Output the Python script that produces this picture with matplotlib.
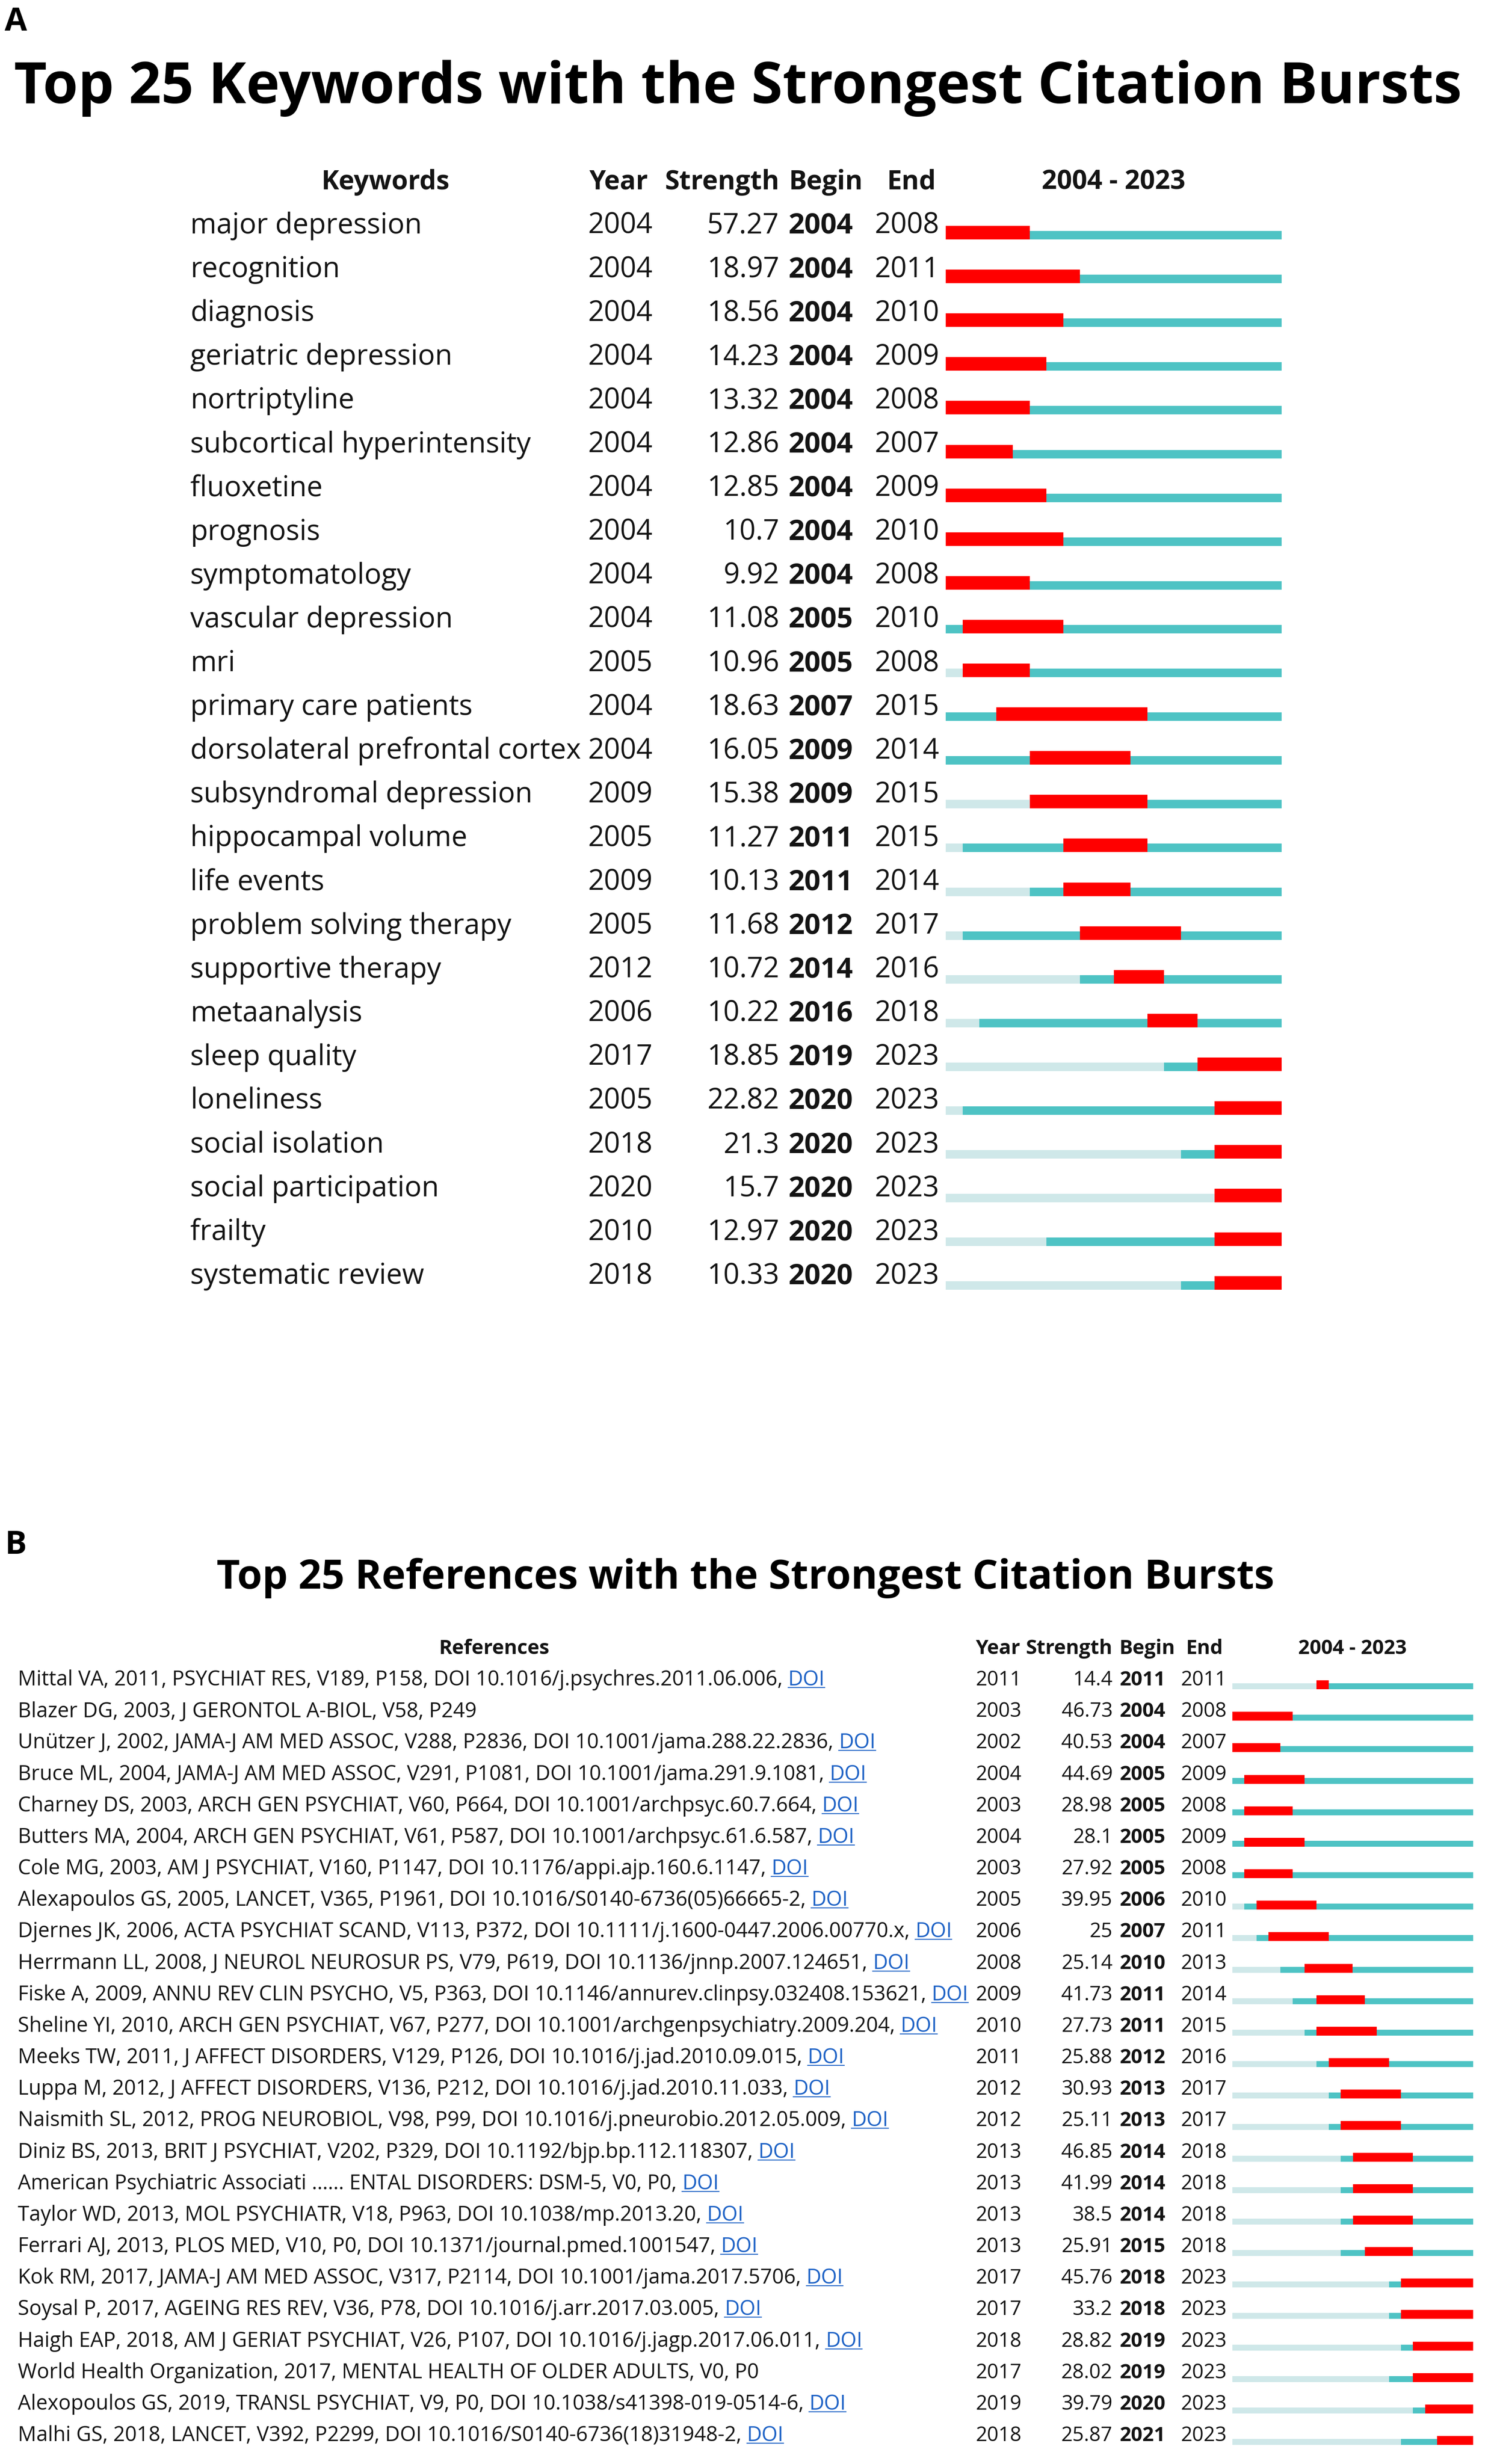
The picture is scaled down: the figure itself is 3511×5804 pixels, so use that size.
import matplotlib
matplotlib.use("Agg")
import numpy as np
import matplotlib.pyplot as plt
from matplotlib.lines import Line2D

# ------------------------------------------------------------------ data
kw_terms = ["major depression", "recognition", "diagnosis", "geriatric depression",
            "nortriptyline", "subcortical hyperintensity", "fluoxetine", "prognosis",
            "symptomatology", "vascular depression", "mri", "primary care patients",
            "dorsolateral prefrontal cortex", "subsyndromal depression", "hippocampal volume",
            "life events", "problem solving therapy", "supportive therapy", "metaanalysis",
            "sleep quality", "loneliness", "social isolation", "social participation",
            "frailty", "systematic review"]
kw_year = [2004, 2004, 2004, 2004, 2004, 2004, 2004, 2004, 2004, 2004, 2005, 2004, 2004,
           2009, 2005, 2009, 2005, 2012, 2006, 2017, 2005, 2018, 2020, 2010, 2018]
kw_strength = ["57.27", "18.97", "18.56", "14.23", "13.32", "12.86", "12.85", "10.7", "9.92",
               "11.08", "10.96", "18.63", "16.05", "15.38", "11.27", "10.13", "11.68", "10.72",
               "10.22", "18.85", "22.82", "21.3", "15.7", "12.97", "10.33"]
kw_begin = [2004, 2004, 2004, 2004, 2004, 2004, 2004, 2004, 2004, 2005, 2005, 2007, 2009,
            2009, 2011, 2011, 2012, 2014, 2016, 2019, 2020, 2020, 2020, 2020, 2020]
kw_end = [2008, 2011, 2010, 2009, 2008, 2007, 2009, 2010, 2008, 2010, 2008, 2015, 2014,
          2015, 2015, 2014, 2017, 2016, 2018, 2023, 2023, 2023, 2023, 2023, 2023]

ref_text = [
    "Mittal VA, 2011, PSYCHIAT RES, V189, P158, DOI 10.1016/j.psychres.2011.06.006,",
    "Blazer DG, 2003, J GERONTOL A-BIOL, V58, P249",
    "Unützer J, 2002, JAMA-J AM MED ASSOC, V288, P2836, DOI 10.1001/jama.288.22.2836,",
    "Bruce ML, 2004, JAMA-J AM MED ASSOC, V291, P1081, DOI 10.1001/jama.291.9.1081,",
    "Charney DS, 2003, ARCH GEN PSYCHIAT, V60, P664, DOI 10.1001/archpsyc.60.7.664,",
    "Butters MA, 2004, ARCH GEN PSYCHIAT, V61, P587, DOI 10.1001/archpsyc.61.6.587,",
    "Cole MG, 2003, AM J PSYCHIAT, V160, P1147, DOI 10.1176/appi.ajp.160.6.1147,",
    "Alexapoulos GS, 2005, LANCET, V365, P1961, DOI 10.1016/S0140-6736(05)66665-2,",
    "Djernes JK, 2006, ACTA PSYCHIAT SCAND, V113, P372, DOI 10.1111/j.1600-0447.2006.00770.x,",
    "Herrmann LL, 2008, J NEUROL NEUROSUR PS, V79, P619, DOI 10.1136/jnnp.2007.124651,",
    "Fiske A, 2009, ANNU REV CLIN PSYCHO, V5, P363, DOI 10.1146/annurev.clinpsy.032408.153621,",
    "Sheline YI, 2010, ARCH GEN PSYCHIAT, V67, P277, DOI 10.1001/archgenpsychiatry.2009.204,",
    "Meeks TW, 2011, J AFFECT DISORDERS, V129, P126, DOI 10.1016/j.jad.2010.09.015,",
    "Luppa M, 2012, J AFFECT DISORDERS, V136, P212, DOI 10.1016/j.jad.2010.11.033,",
    "Naismith SL, 2012, PROG NEUROBIOL, V98, P99, DOI 10.1016/j.pneurobio.2012.05.009,",
    "Diniz BS, 2013, BRIT J PSYCHIAT, V202, P329, DOI 10.1192/bjp.bp.112.118307,",
    "American Psychiatric Associati ...... ENTAL DISORDERS: DSM-5, V0, P0,",
    "Taylor WD, 2013, MOL PSYCHIATR, V18, P963, DOI 10.1038/mp.2013.20,",
    "Ferrari AJ, 2013, PLOS MED, V10, P0, DOI 10.1371/journal.pmed.1001547,",
    "Kok RM, 2017, JAMA-J AM MED ASSOC, V317, P2114, DOI 10.1001/jama.2017.5706,",
    "Soysal P, 2017, AGEING RES REV, V36, P78, DOI 10.1016/j.arr.2017.03.005,",
    "Haigh EAP, 2018, AM J GERIAT PSYCHIAT, V26, P107, DOI 10.1016/j.jagp.2017.06.011,",
    "World Health Organization, 2017, MENTAL HEALTH OF OLDER ADULTS, V0, P0",
    "Alexopoulos GS, 2019, TRANSL PSYCHIAT, V9, P0, DOI 10.1038/s41398-019-0514-6,",
    "Malhi GS, 2018, LANCET, V392, P2299, DOI 10.1016/S0140-6736(18)31948-2,",
]
ref_link = [True, False, True, True, True, True, True, True, True, True, True, True, True,
            True, True, True, True, True, True, True, True, True, False, True, True]
ref_year = [2011, 2003, 2002, 2004, 2003, 2004, 2003, 2005, 2006, 2008, 2009, 2010, 2011,
            2012, 2012, 2013, 2013, 2013, 2013, 2017, 2017, 2018, 2017, 2019, 2018]
ref_strength = ["14.4", "46.73", "40.53", "44.69", "28.98", "28.1", "27.92", "39.95", "25",
                "25.14", "41.73", "27.73", "25.88", "30.93", "25.11", "46.85", "41.99", "38.5",
                "25.91", "45.76", "33.2", "28.82", "28.02", "39.79", "25.87"]
ref_begin = [2011, 2004, 2004, 2005, 2005, 2005, 2005, 2006, 2007, 2010, 2011, 2011, 2012,
             2013, 2013, 2014, 2014, 2014, 2015, 2018, 2018, 2019, 2019, 2020, 2021]
ref_end = [2011, 2008, 2007, 2009, 2008, 2009, 2008, 2010, 2011, 2013, 2014, 2015, 2016,
           2017, 2017, 2018, 2018, 2018, 2018, 2023, 2023, 2023, 2023, 2023, 2023]

span_start, span_end = 2004, 2023
title_a = "Top 25 Keywords with the Strongest Citation Bursts"
title_b = "Top 25 References with the Strongest Citation Bursts"
headers = ["Year", "Strength", "Begin", "End"]
span_label = f"{span_start} - {span_end}"

# ------------------------------------------------------------------ style
W, H, DPI = 3512, 5804, 100
plt.rcParams['font.family'] = ['Open Sans', 'DejaVu Sans']
TXT = '#141414'
RED = '#FF0000'
CYAN = '#4EC3C4'
LIGHT = '#CFE8E9'
LINK = '#1F63C6'

fig = plt.figure(figsize=(W / DPI, H / DPI), dpi=DPI)
fig.patch.set_facecolor('white')
renderer = fig.canvas.get_renderer()


def box_axes(x0, y0, x1, y1):
    ax = fig.add_axes([x0 / W, 1 - y1 / H, (x1 - x0) / W, (y1 - y0) / H])
    ax.set_axis_off()
    return ax


def width_px(t):
    return t.get_window_extent(renderer).width


def fit_size(texts, target, size):
    w = max(width_px(t) for t in texts)
    new = size * target / w
    for t in texts:
        t.set_fontsize(new)
    return new


def fig_text(xp, yp, s, **kw):
    return fig.text(xp / W, 1 - yp / H, s, **kw)


def panel(y_top, y_bot, base0, pitch):
    """Text axes (x in pixels, y in row units) for a panel."""
    ax = box_axes(0, y_top, W, y_bot)
    ax.set_xlim(0, W)
    ax.set_ylim((y_bot - base0) / pitch, (y_top - base0) / pitch)
    return ax


def draw_bars(ax, years, begins, ends, pitch, thin, thick, thin_off, thick_off):
    n = len(years)
    rows = np.arange(n)
    yr = np.clip(np.array(years), span_start, span_end + 1)
    b = np.array(begins)
    e = np.array(ends) + 1
    ax.barh(rows + thin_off / pitch, yr - span_start, left=span_start,
            height=thin / pitch, color=LIGHT, linewidth=0)
    ax.barh(rows + thin_off / pitch, span_end + 1 - yr, left=yr,
            height=thin / pitch, color=CYAN, linewidth=0)
    ax.barh(rows + thick_off / pitch, e - b, left=b,
            height=thick / pitch, color=RED, linewidth=0)


# ================================================================= PANEL A
fig_text(11, 72, "A", fontsize=55, fontweight='bold', color='black', va='baseline', ha='left')
tA = fig_text(1738, 243, title_a, fontsize=95, fontweight='bold', color='black',
              ha='center', va='baseline')
fit_size([tA], 3408, 95)

A_top, A_bot, A_base, A_pitch = 300, 3120, 550, 103.1
axA = panel(A_top, A_bot, A_base, A_pitch)
fsA = 48
fsAh = 45
hdr_y = -1.01
axA.text(908, hdr_y, "Keywords", fontsize=fsAh, fontweight='bold', ha='center', va='baseline', color=TXT)
axA.text(1387, hdr_y, headers[0], fontsize=fsAh, fontweight='bold', ha='left', va='baseline', color=TXT)
axA.text(1835, hdr_y, headers[1], fontsize=fsAh, fontweight='bold', ha='right', va='baseline', color=TXT)
axA.text(1857, hdr_y, headers[2], fontsize=fsAh, fontweight='bold', ha='left', va='baseline', color=TXT)
axA.text(2088, hdr_y, headers[3], fontsize=fsAh, fontweight='bold', ha='left', va='baseline', color=TXT)
axA.text(2622, hdr_y, span_label, fontsize=fsAh, fontweight='bold', ha='center', va='baseline', color=TXT)

kw_objs = []
for i in range(len(kw_terms)):
    kw_objs.append(axA.text(448, i, kw_terms[i], fontsize=fsA, ha='left', va='baseline', color=TXT))
    axA.text(1385, i, str(kw_year[i]), fontsize=fsA, ha='left', va='baseline', color=TXT)
    axA.text(1835, i, kw_strength[i], fontsize=fsA, ha='right', va='baseline', color=TXT)
    axA.text(1857, i, str(kw_begin[i]), fontsize=fsA, fontweight='bold', ha='left', va='baseline', color=TXT)
    axA.text(2060, i, str(kw_end[i]), fontsize=fsA, ha='left', va='baseline', color=TXT)
if max(width_px(t) for t in kw_objs) > 925:
    fit_size(kw_objs, 925, fsA)

barA = box_axes(2227, A_top, 3018, A_bot)
barA.set_xlim(span_start, span_end + 1)
barA.set_ylim(*axA.get_ylim())
draw_bars(barA, kw_year, kw_begin, kw_end, A_pitch, thin=20, thick=32, thin_off=4, thick_off=-2)

# ================================================================= PANEL B
fig_text(11, 3660, "B", fontsize=55, fontweight='bold', color='black', va='baseline', ha='left')
tB = fig_text(1755, 3742, title_b, fontsize=70, fontweight='bold', color='black',
              ha='center', va='baseline')
fit_size([tB], 2493, 70)

B_top, B_bot, B_base, B_pitch = 3800, 5800, 3970, 74.17
axB = panel(B_top, B_bot, B_base, B_pitch)
fsB = 34
hy = -1.0
axB.text(1164, hy, "References", fontsize=fsB, fontweight='bold', ha='center', va='baseline', color=TXT)
axB.text(2298, hy, headers[0], fontsize=fsB, fontweight='bold', ha='left', va='baseline', color=TXT)
axB.text(2620, hy, headers[1], fontsize=fsB, fontweight='bold', ha='right', va='baseline', color=TXT)
axB.text(2636, hy, headers[2], fontsize=fsB, fontweight='bold', ha='left', va='baseline', color=TXT)
axB.text(2793, hy, headers[3], fontsize=fsB, fontweight='bold', ha='left', va='baseline', color=TXT)
axB.text(3185, hy, span_label, fontsize=fsB, fontweight='bold', ha='center', va='baseline', color=TXT)

ref_objs = []
for i in range(len(ref_text)):
    ref_objs.append(axB.text(42, i, ref_text[i], fontsize=fsB, ha='left', va='baseline', color=TXT))
    axB.text(2298, i, str(ref_year[i]), fontsize=fsB, ha='left', va='baseline', color=TXT)
    axB.text(2620, i, ref_strength[i], fontsize=fsB, ha='right', va='baseline', color=TXT)
    axB.text(2636, i, str(ref_begin[i]), fontsize=fsB, fontweight='bold', ha='left', va='baseline', color=TXT)
    axB.text(2781, i, str(ref_end[i]), fontsize=fsB, ha='left', va='baseline', color=TXT)

# fit the reference column so that the widest line (with its link) ends near x=2286
probe = axB.text(0, 0, "DOI", fontsize=fsB, alpha=0)
doi_w = width_px(probe)
gap = fsB * DPI / 72 * 0.26
widest = max(width_px(t) + (gap + doi_w if ref_link[k] else 0) for k, t in enumerate(ref_objs))
fsR = fsB * (2284 - 42) / widest
for t in ref_objs:
    t.set_fontsize(fsR)
probe.set_fontsize(fsR)
doi_w = width_px(probe)
probe.remove()
gap = fsR * DPI / 72 * 0.26

for i, t in enumerate(ref_objs):
    if not ref_link[i]:
        continue
    bb = t.get_window_extent(renderer)
    x_doi = bb.x1 + gap
    d = fig.text(x_doi / W, 0, "DOI", fontsize=fsR, color=LINK, ha='left', va='baseline')
    base_disp = axB.transData.transform((0, i))[1]
    d.set_y(base_disp / H)
    dbb = d.get_window_extent(renderer)
    uy = (base_disp - 5) / H
    fig.add_artist(Line2D([dbb.x0 / W, dbb.x1 / W], [uy, uy], transform=fig.transFigure,
                          color=LINK, linewidth=1.6))

barB = box_axes(2902, B_top, 3469, B_bot)
barB.set_xlim(span_start, span_end + 1)
barB.set_ylim(*axB.get_ylim())
draw_bars(barB, ref_year, ref_begin, ref_end, B_pitch, thin=14, thick=21, thin_off=2, thick_off=-1.5)

fig.savefig("out.png", dpi=DPI, facecolor='white')
